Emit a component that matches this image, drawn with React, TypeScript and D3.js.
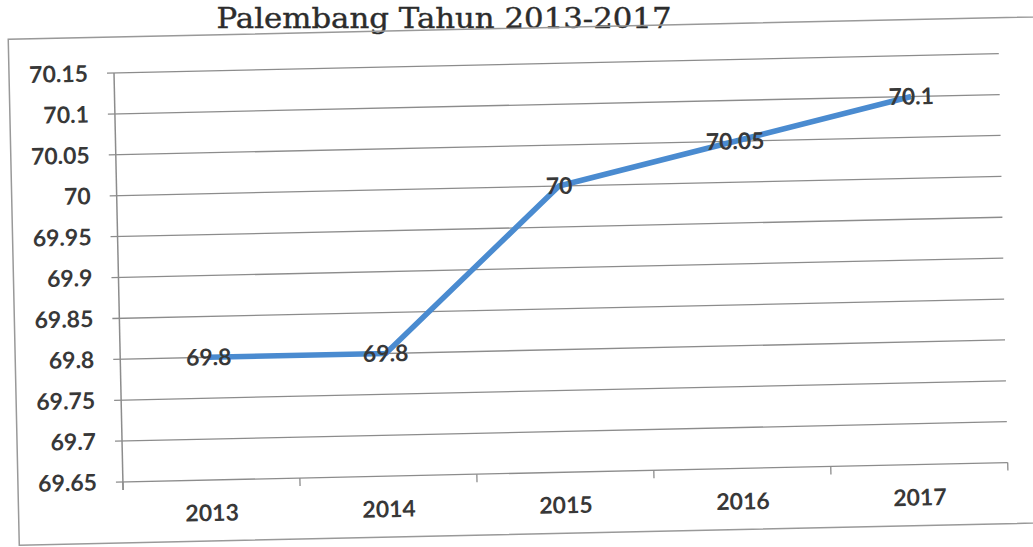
import React from 'react';
import * as d3 from 'd3';

const years = ['2013', '2014', '2015', '2016', '2017'];
const values = [69.8, 69.8, 70.0, 70.05, 70.1];
const valueLabels = ['69.8', '69.8', '70', '70.05', '70.1'];
const yTicks = [69.65, 69.7, 69.75, 69.8, 69.85, 69.9, 69.95, 70, 70.05, 70.1, 70.15];
const yTickLabels = ['69.65', '69.7', '69.75', '69.8', '69.85', '69.9', '69.95', '70', '70.05', '70.1', '70.15'];

const title = 'Palembang Tahun 2013-2017';

export default function App() {
  const width = 1033;
  const height = 547;
  const left = 114;
  const right = 999;
  const top = 73;
  const bottom = 482;

  const x = d3.scaleBand<string>().domain(years).range([left, right]);
  const y = d3.scaleLinear().domain([69.65, 70.15]).range([bottom, top]);

  const line = d3.line<number>()
    .x((_, i) => x(years[i])! + x.bandwidth() / 2)
    .y(d => y(d));

  const labelFont = 'Lato, "Open Sans", sans-serif';
  const grey = '#8c8c8c';
  const textColor = '#383838';

  return (
    <svg
      width={width}
      height={height}
      style={{ position: 'absolute', left: 0, top: 0, background: '#fff' }}
    >
      <text
        x={444}
        y={28}
        textAnchor="middle"
        fontFamily='"DejaVu Serif", serif'
        fontSize={28}
        fill="#2c2c2c"
        stroke="#2c2c2c"
        strokeWidth={0.4}
        textLength={455}
        lengthAdjust="spacingAndGlyphs"
      >
        {title}
      </text>

      <g transform={`rotate(-1.25, ${left}, ${top})`}>
        <rect x={9} y={37} width={1100} height={506} fill="none" stroke="#999" strokeWidth={1.5} />

        {yTicks.map((t, i) => (
          <g key={t}>
            <line x1={left - 7} x2={right} y1={y(t)} y2={y(t)} stroke={grey} strokeWidth={1.3} />
            <text
              x={left - 26}
              y={y(t)}
              dy="0.35em"
              textAnchor="end"
              fontFamily={labelFont}
              fontWeight={700}
              fontSize={23}
              fill={textColor}
            >
              {yTickLabels[i]}
            </text>
          </g>
        ))}

        <line x1={left} x2={left} y1={top} y2={bottom + 8} stroke={grey} strokeWidth={1.5} />
        {years.concat(['end']).map((_, i) => {
          const px = left + i * x.bandwidth();
          return <line key={i} x1={px} x2={px} y1={bottom} y2={bottom + 8} stroke={grey} strokeWidth={1.3} />;
        })}

        {years.map(yr => (
          <text
            key={yr}
            x={x(yr)! + x.bandwidth() / 2}
            y={515}
            dy="0.35em"
            textAnchor="middle"
            fontFamily={labelFont}
            fontWeight={700}
            fontSize={23}
            fill={textColor}
          >
            {yr}
          </text>
        ))}

        <path d={line(values) ?? ''} fill="none" stroke="#4a8bd0" strokeWidth={5.5} strokeLinejoin="round" />

        {values.map((v, i) => (
          <text
            key={i}
            x={x(years[i])! + x.bandwidth() / 2}
            y={y(v)}
            dy="0.35em"
            textAnchor="middle"
            fontFamily={labelFont}
            fontWeight={700}
            fontSize={23}
            fill={textColor}
          >
            {valueLabels[i]}
          </text>
        ))}
      </g>
    </svg>
  );
}
